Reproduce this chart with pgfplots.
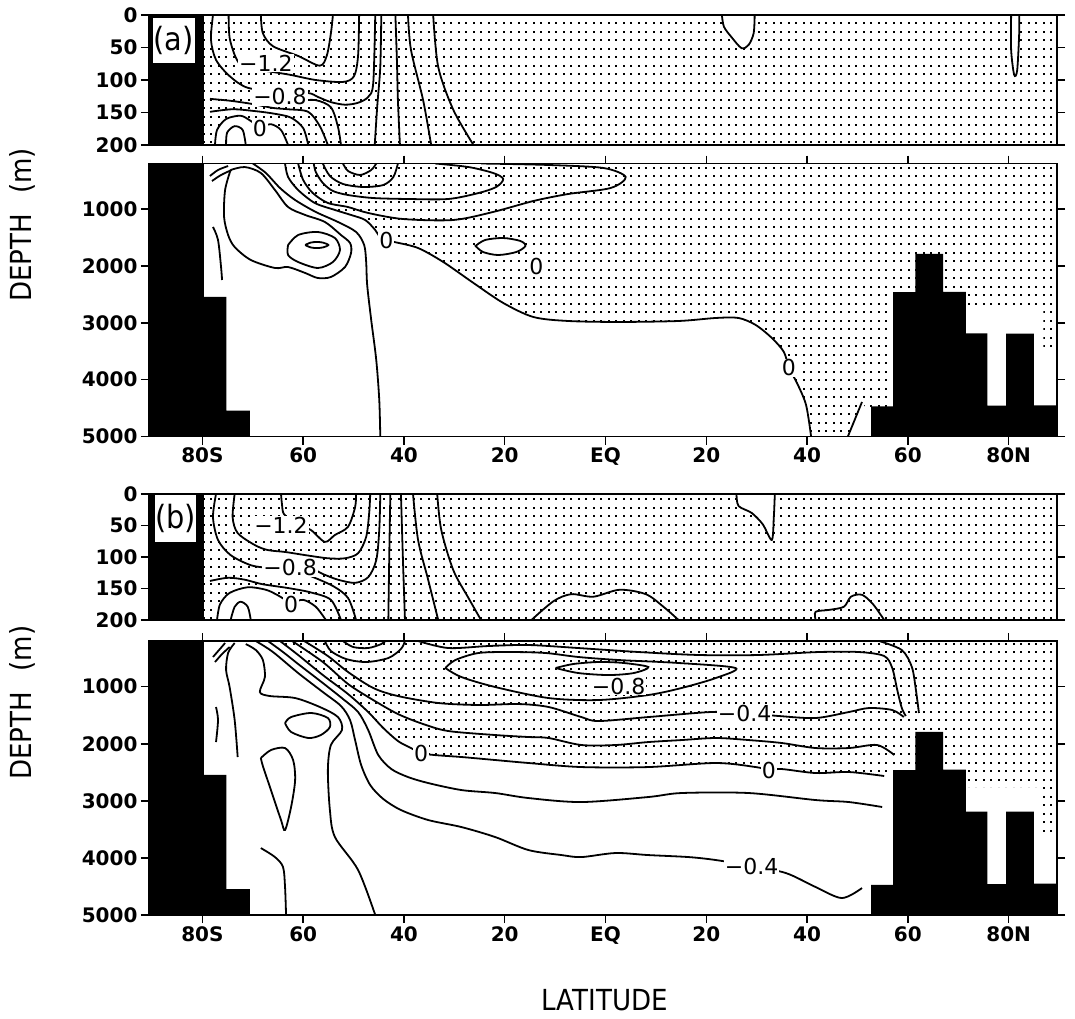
\documentclass[border=0pt]{standalone}
\usepackage{pgfplots}
\pgfplotsset{compat=1.18}
\usetikzlibrary{patterns}
\usepackage{fontspec}
\setmainfont{DejaVu Sans}
\newfontfamily\condfont{DejaVu Sans Condensed}

% stippling used for the negative (southward) transport regions
\pgfdeclarepatternformonly{stipple}{\pgfqpoint{-0.5bp}{-0.5bp}}{\pgfqpoint{8bp}{9bp}}{\pgfqpoint{7.5bp}{8.5bp}}{%
  \pgfpathrectangle{\pgfqpoint{0bp}{0bp}}{\pgfqpoint{2.1bp}{2.1bp}}%
  \pgfusepath{fill}}

\newcommand\tickfont{\fontsize{20bp}{22bp}\selectfont\bfseries}
\newcommand\clabfont{\fontsize{22bp}{24bp}\selectfont}
\newcommand\titlefont{\condfont\fontsize{29bp}{32bp}\selectfont}

\tikzset{
  lab/.style={fill=white, inner sep=1bp, font=\clabfont},
  boxlab/.style={fill=white, inner sep=0pt, font=\condfont\fontsize{32bp}{34bp}\selectfont},
}

\pgfplotsset{
  panel/.style={scale only axis, width=908bp, xmin=-90.6, xmax=89.6, y dir=reverse,
    anchor=north west, axis on top, tick align=outside, major tick length=8bp,
    tick style={black, line width=1.5bp}, axis line style={black, line width=1.6bp},
    ytick pos=both, yticklabel pos=left, ticklabel style={font=\tickfont}},
  upper/.style={panel, ymin=0, ymax=200, xtick=\empty,
    ytick={0,50,100,150,200}, yticklabels={0,50,100,150,200}},
  lower/.style={panel, ymin=200, ymax=5000,
    ytick={1000,2000,3000,4000,5000}, yticklabels={1000,2000,3000,4000,5000},
    xtick={-80,-60,-40,-20,0,20,40,60,80},
    xticklabels={80S,60,40,20,EQ,20,40,60,80N},
    xtick pos=both, xticklabel pos=left,
    ylabel={DEPTH\hspace{0.7em}(m)},
    ylabel style={at={(axis description cs:-0.139,0.775)}, anchor=center, font=\titlefont}},
  ct/.style={black, line width=1.8bp, smooth, tension=0.5},
  wl/.style={fill=white, draw=black, line width=1.8bp, smooth, tension=0.5},
  wf/.style={fill=white, draw=none},
  stip/.style={pattern=stipple, pattern color=black, draw=none},
  topo/.style={fill=black, draw=none},
}

\begin{document}
\begin{tikzpicture}
\useasboundingbox (0,0) rectangle (1075bp,-1019bp);

% ---------------- (a) upper 0-200 m ----------------
\begin{axis}[upper, at={(149bp,-15bp)}, height=130bp]
\addplot[stip] coordinates {(-81,-5) (91,-5) (91,205) (-81,205)} --cycle;
\addplot[wf] coordinates {(23.1,0) (23.5,18) (25.0,34) (27.0,51) (28.4,46) (29.4,28) (29.6,0)} --cycle;
\addplot[wf] coordinates {(80.5,0) (80.5,54) (81.1,92) (81.7,85) (82.1,28) (82.1,0)} --cycle;
\addplot[wf] coordinates {(-77.5,200) (-77.1,177) (-75.3,160) (-72.4,155) (-70.4,163) (-68.6,172) (-66.4,168) (-64.4,177) (-63.0,200)} --cycle;
% contours
\addplot[ct] coordinates {(-68.4,0) (-68.0,28) (-66.0,48) (-61.0,63) (-56.7,78) (-55.3,62) (-54.5,28) (-54.1,0)};
\addplot[ct] coordinates {(-74.8,0) (-74.6,35) (-73.4,65) (-71.8,80) (-67.4,86) (-62.6,92) (-57.5,100) (-52.1,103) (-49.9,94) (-49.1,62) (-48.9,0)};
\addplot[ct] coordinates {(-77.9,0) (-78.3,38) (-77.3,69) (-74.6,94) (-71.0,112) (-64.6,118) (-59.0,120) (-57.1,126) (-54.5,134) (-51.7,138) (-49.1,135) (-47.1,126) (-46.1,105) (-45.7,0)};
\addplot[ct] coordinates {(-78.5,129) (-74.4,132) (-70.0,137) (-66.0,143) (-63.0,145) (-59.0,149) (-56.7,171) (-55.1,200)};
\addplot[ct] coordinates {(-78.5,149) (-74.0,145) (-69.4,148) (-65.6,152) (-62.4,158) (-60.0,174) (-59.0,200)};
\addplot[ct] coordinates {(-61.0,132) (-57.5,131) (-54.5,142) (-53.1,172) (-52.5,200)};
\addplot[ct] coordinates {(-77.5,200) (-77.1,177) (-75.3,160) (-72.4,155) (-70.4,163) (-68.6,172) (-66.4,168) (-64.4,177) (-63.0,200)};
\addplot[ct] coordinates {(-75.3,200) (-75.1,181) (-73.6,171) (-72.0,177) (-71.4,200)};
\addplot[ct] coordinates {(-44.5,0) (-44.7,80) (-45.3,140) (-45.8,200)};
\addplot[ct] coordinates {(-41.7,0) (-41.4,70) (-41.2,131) (-40.8,200)};
\addplot[ct] coordinates {(-39.2,0) (-38.6,54) (-36.2,131) (-34.6,200)};
\addplot[ct] coordinates {(-34.2,0) (-33.2,80) (-30.2,146) (-26.2,200)};
\addplot[ct] coordinates {(23.1,0) (23.5,18) (25.0,34) (27.0,51) (28.4,46) (29.4,28) (29.6,0)};
\addplot[ct] coordinates {(80.5,0) (80.5,54) (81.1,92) (81.7,85) (82.1,28) (82.1,0)};
% Antarctic land
\addplot[topo] coordinates {(-91,-5) (-79.7,-5) (-79.7,205) (-91,205)} --cycle;
\node[boxlab, minimum width=42bp, minimum height=45bp] at (axis cs:-85.7,39) {(a)};
\node[lab] at (axis cs:-67.4,74) {−1.2};
\node[lab] at (axis cs:-64.6,125) {−0.8};
\node[lab] at (axis cs:-68.6,174) {0};
\end{axis}

% ---------------- (a) lower 200-5000 m ----------------
\begin{axis}[lower, at={(149bp,-163.5bp)}, height=273bp]
\addplot[stip] coordinates {(-63.6,190) (91,190) (91,3425) (86.9,3425) (86.9,2720) (71.4,2720) (71.4,4530) (51.9,4530) (50.9,4393) (48.1,5010) (40.8,5010) (39.8,4446) (38.0,4059) (36.4,3795) (35.4,3514) (33.0,3267) (29.8,3039) (26.4,2916) (21.9,2916) (14.5,2969) (2.6,2986) (-7.4,2969) (-14.3,2899) (-20.3,2652) (-26.2,2301) (-32.2,1932) (-37.2,1686) (-41.9,1580) (-43.5,1545) (-44.9,1475) (-45.7,1369) (-47.7,1193) (-50.5,1105) (-53.7,1017) (-57.7,894) (-61.0,666) (-63.0,437) (-63.6,200)} --cycle;
\addplot[wl] coordinates {(-25.8,1650) (-23.9,1545) (-20.3,1510) (-16.9,1562) (-15.9,1650) (-17.7,1756) (-21.3,1809) (-24.3,1756) (-25.8,1650)} --cycle;
% contours
\addplot[ct] coordinates {(-78.5,420) (-76.9,314) (-74.9,244)};
\addplot[ct] coordinates {(-78.1,508) (-76.3,402) (-74.2,314)};
\addplot[ct] coordinates {(-74.4,314) (-75.5,666) (-75.7,1140) (-74.9,1457) (-73.6,1668) (-70.4,1896) (-65.6,2037) (-63.0,2020) (-59.6,2125) (-57.1,2213) (-54.5,2195) (-51.7,2020) (-50.5,1773) (-50.7,1598) (-52.5,1457) (-55.7,1228) (-59.6,1105) (-63.0,965) (-65.6,666) (-68.4,367) (-71.6,262) (-74.4,314)};
\addplot[ct] coordinates {(-63.0,1633) (-61.0,1457) (-57.1,1404) (-53.7,1510) (-52.7,1721) (-54.1,1932) (-57.1,2037) (-61.0,1932) (-63.0,1809) (-63.0,1633)};
\addplot[ct] coordinates {(-59.6,1633) (-58.5,1590) (-57.3,1580) (-56.1,1590) (-55.0,1633) (-56.1,1676) (-57.3,1686) (-58.5,1676) (-59.6,1633)};
\addplot[ct] coordinates {(-70.0,200) (-67.4,367) (-64.6,631) (-61.6,842) (-57.5,1052) (-53.1,1228) (-49.5,1404) (-47.9,1633) (-47.5,1932) (-47.3,2336) (-46.5,2951) (-45.5,3654) (-44.9,4358) (-44.7,5000)};
\addplot[ct] coordinates {(-77.9,1316) (-76.9,1545) (-76.3,2020) (-76.1,2248)};
\addplot[ct] coordinates {(-63.6,200) (-63.0,437) (-61.0,666) (-57.7,894) (-53.7,1017) (-50.5,1105) (-47.7,1193) (-45.7,1369) (-44.9,1475) (-43.5,1545) (-41.9,1580) (-37.2,1686) (-32.2,1932) (-26.2,2301) (-20.3,2652) (-14.3,2899) (-7.4,2969) (2.6,2986) (14.5,2969) (21.9,2916) (26.4,2916) (29.8,3039) (33.0,3267) (35.4,3514) (36.4,3795) (38.0,4059) (39.8,4446) (40.8,5000)};
\addplot[ct] coordinates {(48.1,5000) (50.9,4393)};
\addplot[ct] coordinates {(-52.1,200) (-51.1,332) (-48.7,402) (-46.5,314) (-45.5,200)};
\addplot[ct] coordinates {(-56.1,200) (-54.7,420) (-52.1,560) (-48.1,613) (-44.1,578) (-42.1,437) (-41.2,200)};
\addplot[ct] coordinates {(-57.9,200) (-57.5,349) (-56.1,543) (-54.1,683) (-51.1,754) (-46.1,807) (-39.2,824) (-31.2,824) (-25.2,719) (-21.7,613) (-20.3,472) (-22.3,367) (-27.2,262) (-33.8,200)};
\addplot[ct] coordinates {(-61.0,200) (-60.0,490) (-58.1,719) (-55.1,894) (-51.1,965) (-47.1,1070) (-40.2,1176) (-30.2,1193) (-22.3,1052) (-14.3,859) (-7.4,736) (1.0,631) (4.0,437) (-0.4,279) (-11.3,226) (-24.7,200)};
% topography
\addplot[topo] coordinates {(-91,5100) (-91,150) (-79.7,150) (-79.7,2543) (-75.25,2543) (-75.25,4545) (-70.6,4545) (-70.6,5100)} --cycle;
\addplot[topo] coordinates {(52.7,5100) (52.7,4470) (57.1,4470) (57.1,2460) (61.5,2460) (61.5,1790) (67.0,1790) (67.0,2455) (71.5,2455) (71.5,3188) (75.8,3188) (75.8,4458) (79.5,4458) (79.5,3190) (85.0,3190) (85.0,4452) (91,4452) (91,5100)} --cycle;
\node[lab] at (axis cs:-43.5,1545) {0};
\node[lab] at (axis cs:-13.7,2002) {0};
\node[lab] at (axis cs:36.4,3795) {0};
\end{axis}

% ---------------- (b) upper 0-200 m ----------------
\begin{axis}[upper, at={(149bp,-494bp)}, height=126bp]
\addplot[stip] coordinates {(-81,-5) (91,-5) (91,205) (-81,205)} --cycle;
\addplot[wf] coordinates {(26.0,0) (26.4,19) (29.0,30) (31.2,48) (33.0,73) (33.4,37) (33.6,0)} --cycle;
\addplot[wf] coordinates {(-77.1,200) (-76.5,175) (-74.6,157) (-71.0,148) (-67.4,152) (-65.2,160) (-62.4,172) (-60.0,168) (-57.5,179) (-55.5,200)} --cycle;
% contours
\addplot[ct] coordinates {(-64.4,0) (-64.2,17) (-63.8,32) (-61.5,47) (-58.5,57) (-55.7,76) (-53.7,65) (-51.1,52) (-49.7,21) (-49.5,0)};
\addplot[ct] coordinates {(-73.6,0) (-74.0,37) (-73.0,62) (-69.6,81) (-67.0,89) (-63.6,92) (-59.6,97) (-55.1,102) (-51.7,102) (-49.1,94) (-47.5,68) (-46.9,30) (-46.7,0)};
\addplot[ct] coordinates {(-77.3,0) (-77.9,37) (-76.9,73) (-74.4,97) (-70.4,113) (-67.0,117) (-62.6,118) (-58.3,119) (-56.1,127) (-53.1,136) (-49.7,141) (-47.1,132) (-45.5,105) (-44.9,57) (-44.7,0)};
\addplot[ct] coordinates {(-78.5,138) (-74.9,133) (-71.6,136) (-68.2,143) (-63.2,149) (-58.6,156) (-54.5,168) (-52.5,200)};
\addplot[ct] coordinates {(-58.6,130) (-54.1,146) (-51.1,165) (-49.5,200)};
\addplot[ct] coordinates {(-77.1,200) (-76.5,175) (-74.6,157) (-71.0,148) (-67.4,152) (-65.2,160) (-62.4,172) (-60.0,168) (-57.5,179) (-55.5,200)};
\addplot[ct] coordinates {(-74.4,200) (-73.6,179) (-72.4,171) (-71.0,179) (-70.4,200)};
\addplot[ct] coordinates {(-42.7,0) (-42.9,89) (-43.1,200)};
\addplot[ct] coordinates {(-40.6,0) (-40.2,105) (-39.8,200)};
\addplot[ct] coordinates {(-38.2,0) (-37.2,73) (-35.2,136) (-33.2,200)};
\addplot[ct] coordinates {(-33.4,0) (-32.6,57) (-30.2,121) (-27.2,165) (-24.7,200)};
\addplot[ct] coordinates {(-14.7,200) (-10.3,170) (-6.8,159) (-2.4,163) (2.8,152) (8.0,159) (11.5,179) (14.5,200)};
\addplot[ct] coordinates {(41.7,200) (41.7,187) (44.3,184) (47.3,179) (48.7,163) (50.9,160) (53.1,175) (55.3,200)};
\addplot[ct] coordinates {(26.0,0) (26.4,19) (29.0,30) (31.2,48) (33.0,73) (33.4,37) (33.6,0)};
% Antarctic land
\addplot[topo] coordinates {(-91,-5) (-79.7,-5) (-79.7,205) (-91,205)} --cycle;
\node[boxlab, minimum width=40bp, minimum height=47bp] at (axis cs:-85.3,39) {(b)};
\node[lab] at (axis cs:-64.4,49) {−1.2};
\node[lab] at (axis cs:-62.6,117) {−0.8};
\node[lab] at (axis cs:-62.4,176) {0};
\end{axis}

% ---------------- (b) lower 200-5000 m ----------------
\begin{axis}[lower, at={(149bp,-641bp)}, height=274bp,
  xlabel={LATITUDE},
  xlabel style={at={(axis description cs:0.502,-0.31)}, anchor=center, font=\titlefont}]
\addplot[stip] coordinates {(-64.6,190) (91,190) (91,3634) (86.7,3634) (86.7,2758) (71.4,2758) (71.4,3050) (57.0,3050) (57.0,2565) (55.3,2565) (48.3,2495) (41.7,2513) (35.0,2443) (32.4,2460) (29.8,2408) (21.9,2337) (8.5,2408) (-4.8,2408) (-15.3,2337) (-21.9,2285) (-28.6,2232) (-34.0,2197) (-36.6,2162) (-39.0,2057) (-41.2,1952) (-44.1,1725) (-47.1,1444) (-51.1,1129) (-56.1,796) (-61.0,445) (-64.6,200)} --cycle;
% contours
\addplot[ct] coordinates {(-77.9,480) (-76.7,358) (-75.5,235)};
\addplot[ct] coordinates {(-77.5,568) (-76.1,428) (-74.6,305)};
\addplot[ct] coordinates {(-73.6,235) (-74.9,410) (-75.3,708) (-74.6,1006) (-73.6,1584) (-73.0,2232)};
\addplot[ct] coordinates {(-71.4,253) (-69.4,358) (-68.0,533) (-67.6,831) (-68.6,1094) (-66.6,1164) (-61.6,1199) (-56.7,1356) (-53.1,1532) (-52.3,1759) (-54.5,2022) (-55.1,2460) (-54.7,3161) (-53.7,3634) (-49.1,4212) (-45.7,5000)};
\addplot[ct] coordinates {(-77.3,1356) (-76.9,1584) (-77.3,1970)};
\addplot[ct] coordinates {(-63.6,1637) (-62.4,1532) (-58.4,1461) (-55.1,1549) (-54.7,1707) (-56.5,1847) (-59.0,1899) (-62.4,1794) (-63.6,1637)};
\addplot[ct] coordinates {(-68.4,2250) (-66.4,2110) (-63.6,2075) (-62.0,2285) (-61.6,2636) (-62.4,3108) (-63.6,3511) (-64.4,3336) (-66.4,2811) (-68.0,2390) (-68.4,2250)};
\addplot[ct] coordinates {(-68.4,3827) (-65.6,3985) (-64.0,4160) (-63.6,4510) (-63.4,5000)};
\addplot[ct] coordinates {(-69.4,200) (-66.0,393) (-61.0,761) (-56.1,1094) (-52.5,1339) (-50.7,1584) (-49.7,1935) (-48.5,2372) (-46.7,2723) (-44.1,2968) (-40.6,3161) (-35.2,3336) (-28.6,3459) (-21.9,3634) (-15.3,3862) (-8.7,3950) (-4.8,3985) (2.0,3914) (8.5,3950) (16.5,3985) (21.9,4037) (29.0,4142) (35.8,4265) (41.7,4510) (46.9,4703) (50.9,4528)};
\addplot[ct] coordinates {(-67.0,200) (-64.0,393) (-61.0,603) (-56.1,936) (-52.1,1216) (-49.1,1444) (-47.1,1759) (-45.1,2197) (-42.5,2443) (-39.2,2583) (-35.2,2688) (-28.6,2811) (-21.9,2863) (-15.3,2951) (-4.8,3021) (8.5,2933) (15.1,2863) (28.4,2863) (41.7,2986) (48.3,3021) (54.9,3108)};
\addplot[ct] coordinates {(-64.6,200) (-61.0,445) (-56.1,796) (-51.1,1129) (-47.1,1444) (-44.1,1725) (-41.2,1952) (-39.0,2057) (-36.6,2162) (-34.0,2197) (-28.6,2232) (-21.9,2285) (-15.3,2337) (-4.8,2408) (8.5,2408) (21.9,2337) (29.8,2408) (32.4,2460) (35.0,2443) (41.7,2513) (48.3,2495) (55.3,2565)};
\addplot[ct] coordinates {(-62.2,200) (-56.1,568) (-51.1,953) (-46.1,1234) (-41.2,1479) (-36.2,1654) (-31.2,1777) (-21.9,1847) (-15.3,1882) (-11.3,1899) (-4.8,2022) (2.0,2022) (8.5,1970) (15.1,1935) (21.9,1899) (28.4,1935) (35.0,1987) (41.7,2075) (48.3,2075) (53.9,2022) (57.3,2197)};
\addplot[ct] coordinates {(-59.8,200) (-55.1,463) (-51.1,743) (-46.1,1023) (-41.2,1164) (-33.2,1286) (-25.2,1321) (-17.3,1304) (-11.3,1356) (-4.8,1532) (-1.4,1602) (8.5,1532) (20.9,1444) (27.6,1461) (34.4,1514) (41.7,1549) (48.3,1444) (52.3,1374) (56.9,1409) (59.2,1532)};
\addplot[ct] coordinates {(-55.7,200) (-54.5,375) (-51.5,515) (-47.5,568) (-43.1,498) (-40.6,340) (-39.8,200)};
\addplot[ct] coordinates {(-52.1,200) (-50.1,305) (-47.1,323) (-44.5,253) (-43.7,200)};
\addplot[ct] coordinates {(-37.2,200) (-31.2,323) (-23.3,288) (-15.3,270) (-5.4,323) (6.6,393) (18.5,445) (30.4,445) (42.3,393) (50.3,393) (55.3,463) (56.9,673) (57.9,1058) (58.8,1374) (59.6,1514)};
\addplot[ct] coordinates {(54.3,200) (58.8,358) (60.8,656) (61.6,1058) (62.2,1461)};
\addplot[ct] coordinates {(-31.8,673) (-29.8,533) (-25.2,410) (-18.7,393) (-11.9,410) (-5.4,480) (2.6,533) (14.5,585) (25.8,673) (21.9,848) (15.1,1023) (8.5,1146) (-1.4,1234) (-11.3,1199) (-21.9,1006) (-28.6,831) (-31.8,673)};
\addplot[ct] coordinates {(-9.9,673) (-6.4,603) (-1.4,568) (3.6,585) (8.5,656) (5.6,761) (0.6,796) (-5.4,761) (-9.9,673)};
% topography
\addplot[topo] coordinates {(-91,5100) (-91,150) (-79.7,150) (-79.7,2543) (-75.25,2543) (-75.25,4545) (-70.6,4545) (-70.6,5100)} --cycle;
\addplot[topo] coordinates {(52.7,5100) (52.7,4470) (57.1,4470) (57.1,2460) (61.5,2460) (61.5,1790) (67.0,1790) (67.0,2455) (71.5,2455) (71.5,3188) (75.8,3188) (75.8,4458) (79.5,4458) (79.5,3190) (85.0,3190) (85.0,4452) (91,4452) (91,5100)} --cycle;
\node[lab] at (axis cs:2.6,988) {−0.8};
\node[lab] at (axis cs:27.6,1461) {−0.4};
\node[lab] at (axis cs:-36.6,2162) {0};
\node[lab] at (axis cs:32.4,2460) {0};
\node[lab] at (axis cs:29.0,4142) {−0.4};
\end{axis}
\end{tikzpicture}
\end{document}
